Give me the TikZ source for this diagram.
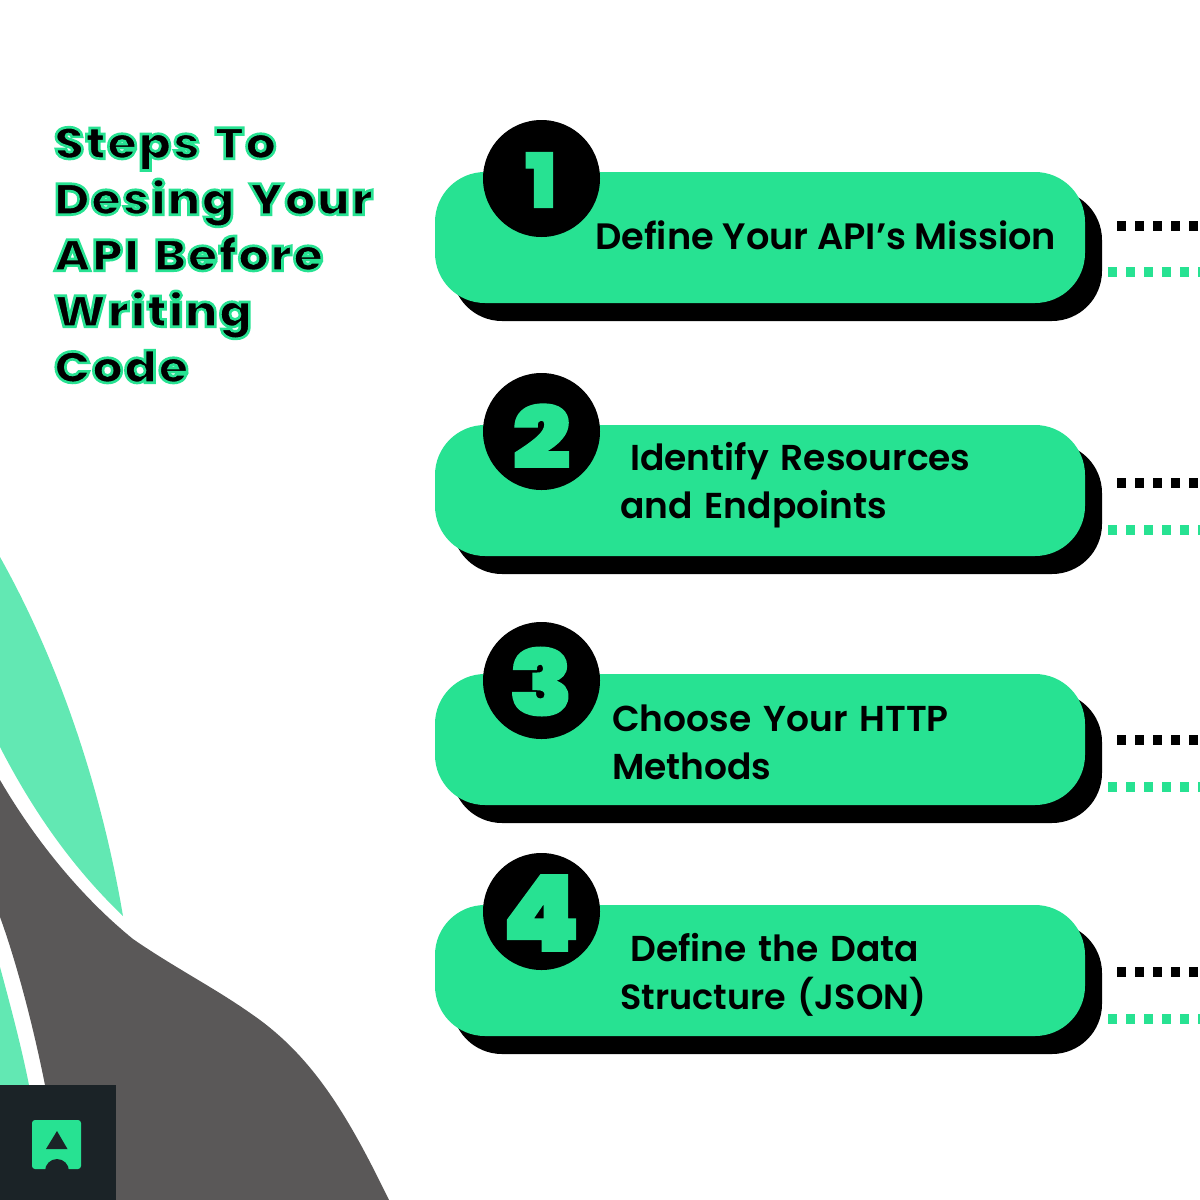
\documentclass[tikz,border=0pt]{standalone}
\usepackage{fontspec}
\usepackage{graphicx}
\setmainfont{Poppins}
\newfontfamily\semif{Poppins SemiBold}
\newfontfamily\blackf[FakeBold=1.5]{Poppins Black}
\newfontfamily\strokef[FakeBold=6,FakeStretch=1.1,LetterSpace=3,WordSpace=1.4]{Poppins ExtraBold}
\definecolor{mint}{HTML}{27E292}
\definecolor{leaf}{HTML}{62E8B3}
\definecolor{slate}{HTML}{5A5858}
\definecolor{ink}{HTML}{1B2327}
\tikzset{
 x=1pt,y=-1pt,
 pill/.style={fill=mint,rounded corners=50pt},
 shade/.style={fill=black,rounded corners=50pt},
 badge/.style={circle,fill=black,minimum size=117pt,inner sep=0pt},
 digit/.style={text=mint,font=\blackf\fontsize{88}{88}\selectfont,inner sep=0pt},
 lbl/.style={anchor=west,align=left,font=\semif\fontsize{36}{48}\selectfont,text=black,inner sep=0pt},
 dk/.style={line width=9.5pt,dash pattern=on 9pt off 9pt,draw=black},
 gd/.style={line width=9.5pt,dash pattern=on 9pt off 9pt,draw=mint},
}
\newcommand{\outl}[1]{\special{pdf:bcolor [0 0 0] [0.153 0.886 0.573]}#1\special{pdf:ecolor}}
\begin{document}
\begin{tikzpicture}
\useasboundingbox (0,0) rectangle (1200,1200);
\fill[leaf] (0,557) .. controls (55,655) and (100,780) .. (123,916) .. controls (75,870) and (35,815) .. (0,747) -- cycle;
\fill[slate] (0,780) .. controls (38,845) and (85,900) .. (133,939) .. controls (175,968) and (215,988) .. (253,1015) .. controls (315,1058) and (350,1120) .. (389,1200) -- (45,1200) -- (45,1085) .. controls (32,1020) and (15,958) .. (0,917) -- cycle;
\fill[leaf] (0,967) .. controls (13,1015) and (22,1050) .. (29,1085) -- (0,1085) -- cycle;
\fill[ink] (0,1085) rectangle (116,1200);
\fill[mint,rounded corners=3pt] (32,1120) rectangle (81,1169);
\fill[ink] (57,1171) circle[radius=12pt];
\fill[ink] (57,1131) -- (67.5,1149) -- (46,1149) -- cycle;

\node[anchor=north west,align=left,inner sep=0pt,font=\strokef\fontsize{44}{56}\selectfont] (title) at (54,127) {\outl{Steps To}\\\outl{Desing Your}\\\outl{API Before}\\\outl{Writing}\\\outl{Code}};

% rows
\foreach \t/\n/\dy/\gy/\dg/\dw/\dh/\dx/\dyy in {172/a/226/272/1/31/55/541/180,425/b/483/530/2/58/64/541.5/436,674/c/740/787/3/64/68/541/681.5,905/d/972/1019/4/78/76/541/913}{
 \fill[shade] (452,\t+18) rectangle (1102,\t+149);
 \fill[pill] (435,\t) rectangle (1085,\t+131);
 \node[badge] (b\n) at (541.5,\t+6.5) {};
 \node[digit] (n\n) at (\dx,\dyy) {\resizebox{\dw pt}{\dh pt}{\dg}};
 \coordinate (ks\n) at (1117,\dy);
 \coordinate (ke\n) at (1200,\dy);
 \coordinate (gs\n) at (1108,\gy);
 \coordinate (ge\n) at (1200,\gy);
 \draw[dk] (ks\n) -- (ke\n);
 \draw[gd] (gs\n) -- (ge\n);
}
\node[lbl,font=\semif\fontsize{36.7}{48}\selectfont] (la) at (595,235) {Define Your API’s Mission};
\node[lbl,text width=400pt] (lb) at (620,485) {\hspace*{10pt}Identify Resources\\and Endpoints};
\node[lbl,text width=400pt] (lc) at (612,742) {Choose Your HTTP\\Methods};
\node[lbl,text width=400pt] (ld) at (620,975) {\hspace*{10pt}Define the Data\\{\fontsize{35}{48}\selectfont Structure (JSON)}};
\end{tikzpicture}
\end{document}
